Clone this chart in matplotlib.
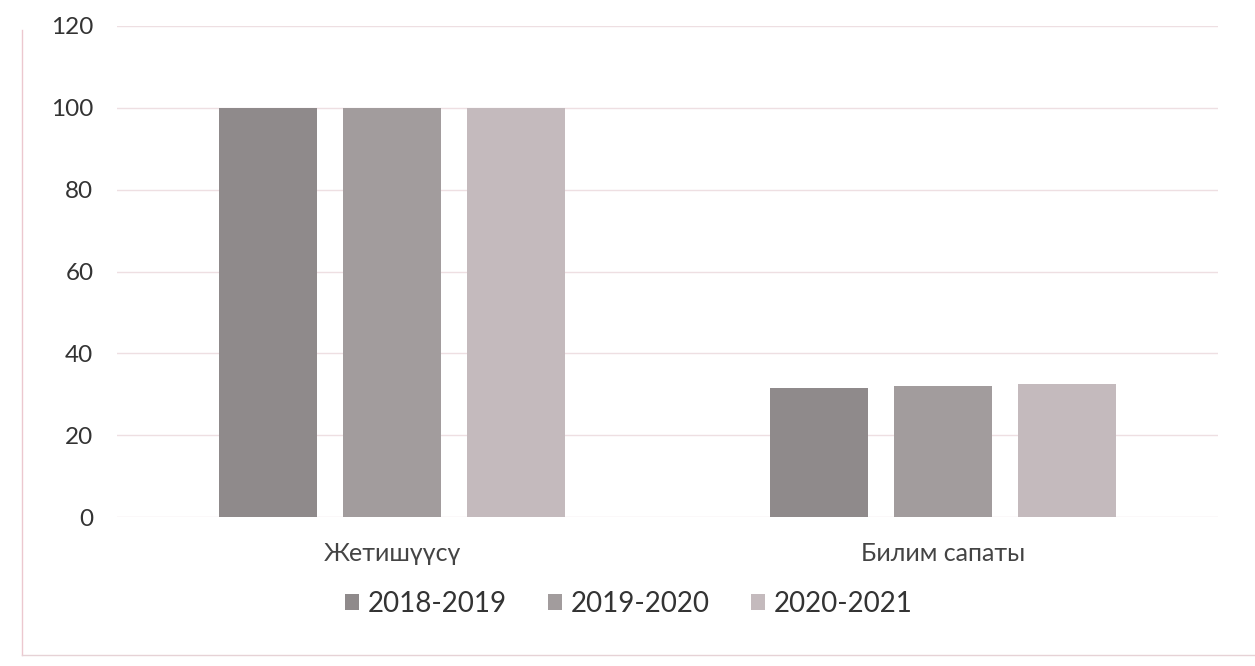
import numpy as np
import matplotlib.pyplot as plt
import matplotlib

matplotlib.rcParams['font.family'] = ['Lato', 'DejaVu Sans']

# data
categories = ['Жетишүүсү', 'Билим сапаты']
years = ['2018-2019', '2019-2020', '2020-2021']
v_2018 = [100, 31.6]
v_2019 = [100, 31.9]
v_2020 = [100, 32.6]
yticks = [0, 20, 40, 60, 80, 100, 120]

colors = ['#8f8a8b', '#a29c9d', '#c4babd']
series = [v_2018, v_2019, v_2020]

fig = plt.figure(figsize=(12.55, 6.66), dpi=100)
ax = fig.add_axes([117 / 1255, 1 - 517 / 666, (1218 - 117) / 1255, (517 - 26) / 666])

x = np.arange(len(categories))
width = 0.178
step = 0.225
for i, (vals, col, lab) in enumerate(zip(series, colors, years)):
    ax.bar(x + (i - 1) * step, vals, width, color=col, label=lab, zorder=2)

ax.set_xlim(-0.5, 1.5)
ax.set_ylim(0, 120)
ax.set_yticks(yticks)
ax.set_xticks(x)
ax.set_xticklabels(categories, fontsize=18, color='#444444')
ax.tick_params(axis='y', length=0, pad=17, labelsize=17.5, labelcolor='#333333')
ax.tick_params(axis='x', length=0, pad=18)
ax.grid(axis='y', color='#eedfe2', linewidth=1, zorder=0)
for s in ax.spines.values():
    s.set_visible(False)

ax.legend(loc='upper center', bbox_to_anchor=(0.465, -0.10), ncol=3, frameon=False,
          fontsize=20, handlelength=0.5, handleheight=0.5, handletextpad=0.3,
          columnspacing=1.5, labelcolor='#333333')

# faint frame of the chart area
fig.add_artist(plt.Line2D([22 / 1255, 22 / 1255], [1 - 655 / 666, 1 - 30 / 666],
                          color='#ecc8cf', linewidth=1))
fig.add_artist(plt.Line2D([22 / 1255, 1], [1 - 655 / 666, 1 - 655 / 666],
                          color='#e6d2d6', linewidth=1))

fig.savefig('out.png', dpi=100)
